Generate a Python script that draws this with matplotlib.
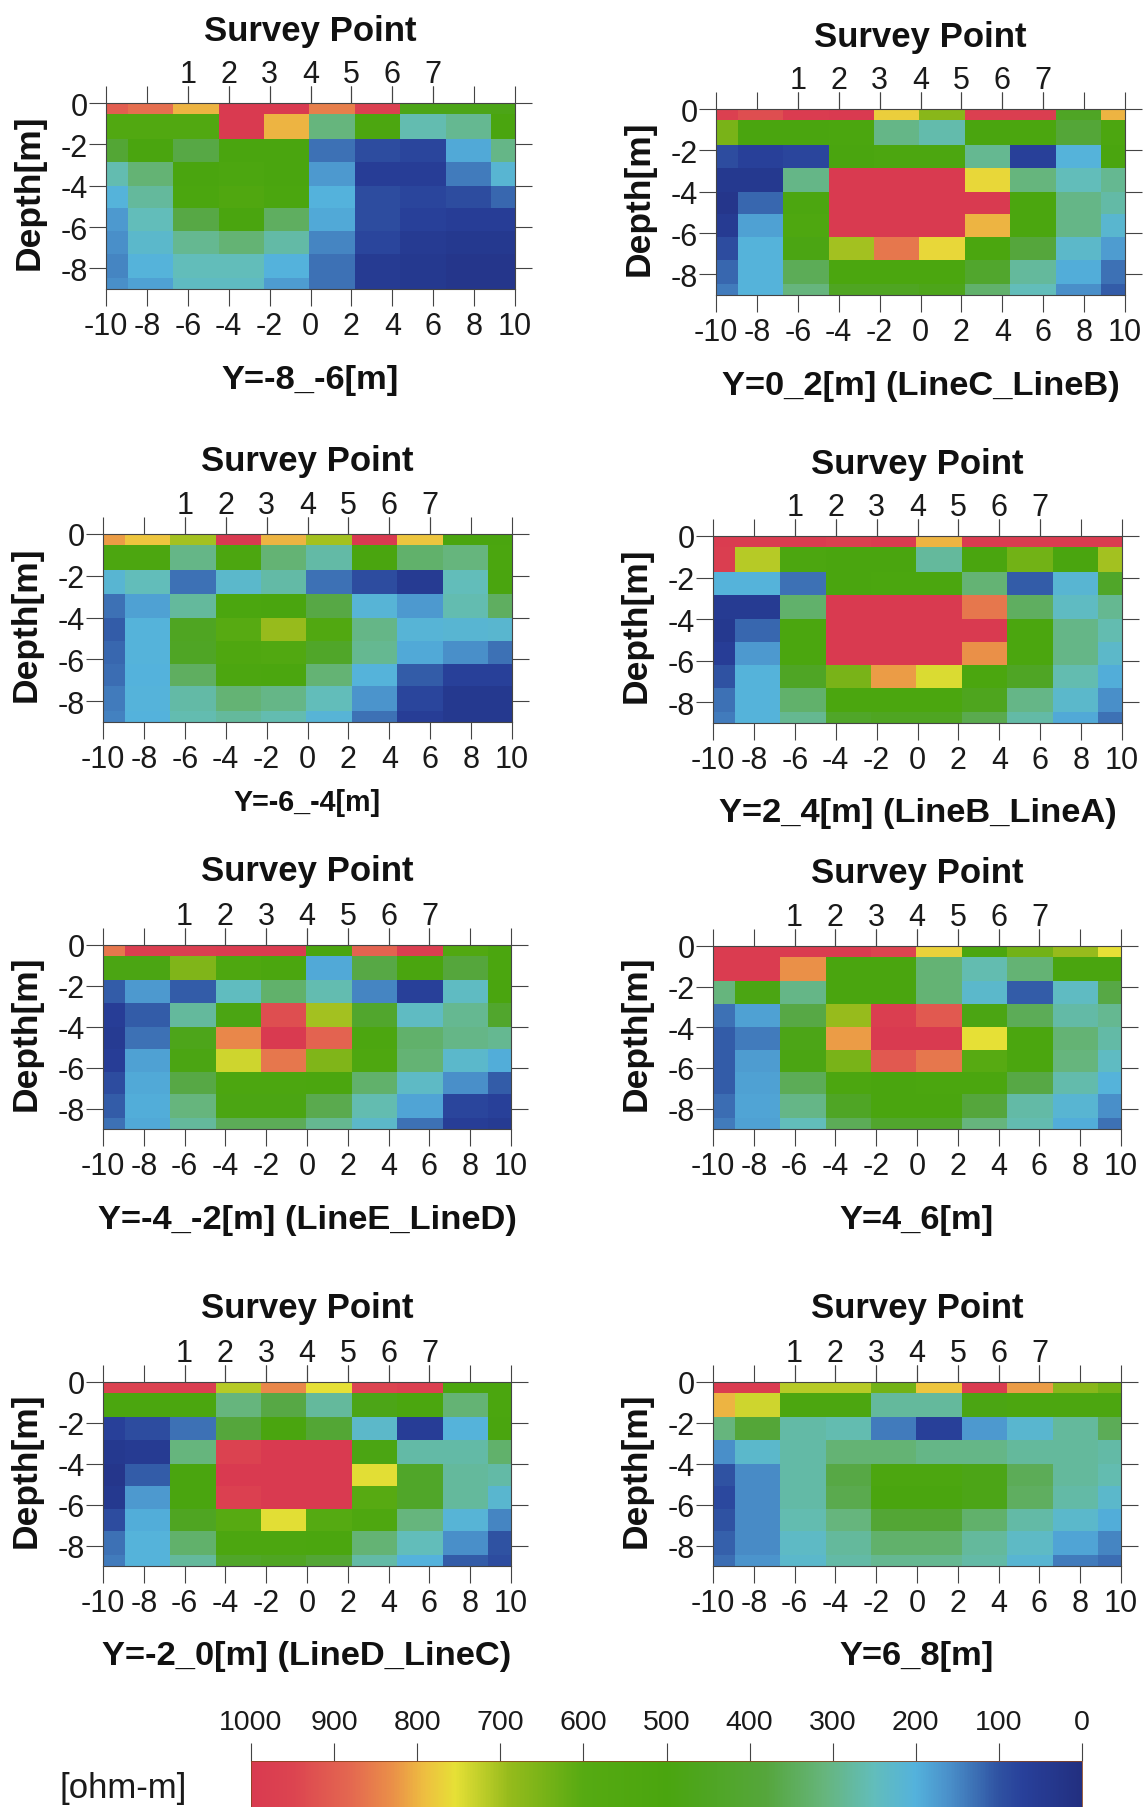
import numpy as np
import matplotlib
matplotlib.use("Agg")
import matplotlib.pyplot as plt
from matplotlib.colors import LinearSegmentedColormap, Normalize

plt.rcParams['font.family'] = ['Liberation Sans', 'DejaVu Sans']

x_edges = [-10, -8.9, -6.7, -4.45, -2.25, -0.05, 2.2, 4.4, 6.65, 8.85, 10]
depth_edges = [0, -0.55, -1.72, -2.85, -4.0, -5.1, -6.2, -7.3, -8.45, -9]
x_tick_values = [-10, -8, -6, -4, -2, 0, 2, 4, 6, 8, 10]
x_tick_labels = ['-10', '-8', '-6', '-4', '-2', '0', '2', '4', '6', '8', '10']
depth_ticks = [0, -2, -4, -6, -8]
depth_labels = ['0', '-2', '-4', '-6', '-8']
survey_ticks = [-6, -4, -2, 0, 2, 4, 6]
survey_labels = ['1', '2', '3', '4', '5', '6', '7']
cbar_ticks = [1000, 900, 800, 700, 600, 500, 400, 300, 200, 100, 0]

y_m8_m6 = [
    [900, 870, 800, 1000, 1000, 850, 970, 480, 480, 480],
    [560, 560, 560, 1000, 800, 310, 520, 260, 290, 500],
    [400, 500, 370, 500, 500, 130, 90, 80, 190, 300],
    [260, 320, 500, 520, 500, 170, 60, 60, 140, 215],
    [205, 280, 510, 550, 510, 200, 90, 80, 90, 120],
    [170, 250, 370, 500, 340, 190, 90, 70, 60, 60],
    [160, 225, 290, 320, 270, 150, 80, 50, 40, 40],
    [150, 205, 250, 250, 200, 130, 50, 40, 30, 30],
    [160, 180, 240, 240, 175, 130, 50, 40, 30, 30],
]
y_m6_m4 = [
    [820, 785, 700, 1000, 800, 700, 1000, 785, 500, 500],
    [520, 520, 300, 520, 320, 270, 500, 330, 310, 510],
    [215, 250, 130, 225, 270, 130, 90, 50, 250, 500],
    [130, 180, 280, 510, 500, 370, 210, 170, 260, 340],
    [110, 205, 450, 600, 690, 560, 300, 210, 215, 220],
    [120, 205, 440, 540, 560, 430, 290, 190, 160, 130],
    [125, 200, 340, 520, 510, 320, 205, 110, 70, 70],
    [140, 205, 270, 320, 300, 250, 165, 80, 40, 40],
    [145, 200, 260, 280, 260, 210, 130, 60, 40, 40],
]
y_m4_m2 = [
    [860, 980, 980, 990, 990, 500, 890, 980, 560, 510],
    [490, 490, 660, 530, 510, 190, 370, 500, 380, 510],
    [110, 170, 110, 245, 330, 260, 150, 70, 240, 500],
    [60, 110, 280, 490, 930, 700, 420, 240, 290, 420],
    [50, 130, 470, 840, 1000, 890, 520, 330, 300, 290],
    [60, 180, 490, 735, 860, 660, 530, 320, 225, 195],
    [90, 190, 370, 520, 520, 510, 330, 235, 160, 110],
    [110, 195, 310, 490, 490, 360, 260, 185, 80, 70],
    [130, 190, 280, 350, 350, 290, 230, 130, 60, 50],
]
y_m2_0 = [
    [960, 960, 980, 715, 840, 755, 950, 970, 510, 510],
    [510, 510, 510, 310, 370, 280, 480, 510, 320, 510],
    [70, 90, 130, 380, 500, 400, 230, 60, 205, 500],
    [40, 50, 310, 960, 1000, 1000, 490, 270, 270, 330],
    [30, 110, 500, 1000, 1000, 1000, 750, 430, 280, 270],
    [40, 170, 500, 970, 1000, 1000, 600, 430, 280, 220],
    [90, 195, 450, 600, 750, 590, 530, 310, 210, 150],
    [130, 205, 330, 520, 520, 510, 320, 250, 160, 100],
    [140, 205, 280, 430, 450, 400, 270, 200, 110, 90],
]
y_0_2 = [
    [970, 930, 990, 1000, 775, 670, 970, 980, 440, 800],
    [650, 500, 500, 510, 300, 265, 500, 510, 390, 520],
    [90, 70, 80, 500, 520, 520, 290, 70, 205, 500],
    [40, 40, 300, 1000, 1000, 1000, 765, 310, 250, 290],
    [30, 120, 520, 1000, 1000, 1000, 1000, 510, 300, 270],
    [50, 180, 530, 1000, 1000, 1000, 800, 510, 300, 220],
    [90, 205, 490, 700, 860, 765, 510, 380, 230, 175],
    [120, 205, 350, 510, 510, 510, 420, 280, 195, 130],
    [140, 205, 310, 450, 450, 470, 330, 250, 160, 110],
]
y_2_4 = [
    [990, 990, 990, 970, 990, 800, 990, 990, 990, 990],
    [980, 715, 520, 500, 500, 280, 500, 640, 500, 700],
    [205, 205, 130, 500, 510, 510, 320, 110, 215, 430],
    [50, 50, 330, 1000, 1000, 1000, 860, 340, 240, 290],
    [40, 120, 510, 1000, 1000, 1000, 1000, 510, 300, 260],
    [60, 170, 510, 1000, 1000, 1000, 830, 510, 300, 230],
    [100, 205, 440, 650, 820, 745, 510, 440, 260, 195],
    [130, 205, 330, 510, 510, 510, 460, 300, 225, 160],
    [140, 205, 290, 430, 450, 450, 360, 270, 190, 130],
]
y_4_6 = [
    [990, 990, 990, 990, 950, 770, 510, 640, 690, 755],
    [990, 990, 830, 500, 500, 320, 260, 320, 500, 500],
    [310, 490, 300, 500, 500, 320, 225, 110, 240, 370],
    [130, 180, 370, 690, 980, 910, 490, 350, 270, 290],
    [110, 140, 480, 820, 1000, 1000, 755, 510, 320, 270],
    [110, 175, 490, 650, 910, 860, 600, 510, 310, 240],
    [110, 180, 350, 520, 500, 510, 510, 370, 265, 205],
    [125, 185, 300, 440, 500, 500, 380, 270, 215, 160],
    [140, 180, 250, 350, 420, 420, 310, 260, 195, 130],
]
y_6_8 = [
    [990, 990, 715, 715, 640, 785, 990, 820, 670, 640],
    [800, 735, 520, 520, 280, 280, 490, 520, 520, 520],
    [310, 390, 270, 260, 140, 70, 170, 220, 280, 350],
    [160, 225, 270, 320, 320, 300, 300, 280, 280, 270],
    [100, 155, 270, 370, 520, 520, 480, 350, 280, 260],
    [85, 155, 270, 360, 500, 500, 480, 340, 270, 225],
    [100, 155, 260, 310, 400, 400, 330, 270, 225, 195],
    [115, 155, 235, 280, 330, 330, 280, 235, 185, 150],
    [125, 165, 225, 270, 290, 290, 270, 215, 140, 125],
]

cmap_stops = [
    (0.00, '#222f80'), (0.07, '#28409a'), (0.10, '#2f52a2'), (0.13, '#3d72b6'),
    (0.16, '#4a90ca'), (0.20, '#54b2dc'), (0.25, '#62bdbb'), (0.31, '#66b57c'),
    (0.38, '#55a63c'), (0.50, '#4aa50f'), (0.60, '#56aa12'), (0.69, '#96bb1c'),
    (0.755, '#e6e036'), (0.79, '#eec040'), (0.83, '#ea9048'), (0.88, '#e46850'),
    (0.95, '#dc4450'), (1.00, '#d93a50'),
]
cmap = LinearSegmentedColormap.from_list('resistivity', cmap_stops, N=512)
norm = Normalize(0, 1000)

W, H = 1143, 1808
fig = plt.figure(figsize=(W / 100, H / 100), dpi=100, facecolor='white')

# data, caption, caption size, left, right, top, bottom, title y, caption y
panels = [
    (y_m8_m6, 'Y=-8_-6[m]', 24.8, 106, 515, 104, 290, 31.5, 380.5),
    (y_0_2, 'Y=0_2[m] (LineC_LineB)', 24.8, 716, 1125, 110, 296, 37.5, 386.5),
    (y_m6_m4, 'Y=-6_-4[m]', 20.6, 103, 512, 535, 723, 461.5, 803.5),
    (y_2_4, 'Y=2_4[m] (LineB_LineA)', 24.8, 713, 1122, 537, 724, 464.5, 813.5),
    (y_m4_m2, 'Y=-4_-2[m] (LineE_LineD)', 24.8, 103, 511, 946, 1130, 871.5, 1220.5),
    (y_4_6, 'Y=4_6[m]', 24.8, 713, 1121, 947, 1130, 873.5, 1220.5),
    (y_m2_0, 'Y=-2_0[m] (LineD_LineC)', 24.8, 103, 511, 1383, 1567, 1308.5, 1656.5),
    (y_6_8, 'Y=6_8[m]', 24.8, 713, 1121, 1383, 1567, 1308.5, 1656.5),
]

TICK = dict(length=12, width=0.8, color='#444444')
for data, caption, cap_size, l, r, t, b, ty, cy in panels:
    ax = fig.add_axes([l / W, 1 - b / H, (r - l) / W, (b - t) / H])
    ax.pcolormesh(x_edges, depth_edges, np.array(data), cmap=cmap, norm=norm, shading='flat')
    ax.set_xlim(-10, 10)
    ax.set_ylim(-9, 0)
    ax.set_xticks(x_tick_values)
    ax.set_xticklabels(x_tick_labels, fontsize=22, color='#1a1a1a')
    ax.set_yticks(depth_ticks)
    ax.set_yticklabels(depth_labels, fontsize=22, color='#1a1a1a')
    ax.tick_params(axis='both', which='both', direction='out', right=True, top=True, **TICK)
    ax.tick_params(axis='x', pad=4)
    ax.tick_params(axis='y', pad=1)
    for s in ax.spines.values():
        s.set_linewidth(0.8)
        s.set_color('#444444')
    sec = ax.secondary_xaxis('top')
    sec.set_xticks(survey_ticks)
    sec.set_xticklabels(survey_labels, fontsize=22, color='#1a1a1a')
    sec.tick_params(direction='out', pad=-2, **TICK)
    sec.spines['top'].set_visible(False)
    cx = (l + r) / 2
    fig.text(cx / W, 1 - ty / H, 'Survey Point', fontsize=25, fontweight='bold',
             ha='center', va='center', color='#111111')
    fig.text(cx / W, 1 - cy / H, caption, fontsize=cap_size, fontweight='bold',
             ha='center', va='center', color='#111111')
    fig.text((l - 77) / W, 1 - ((t + b) / 2 - 5) / H, 'Depth[m]', fontsize=25.5, fontweight='bold',
             rotation=90, ha='center', va='center', color='#111111')

cax = fig.add_axes([251 / W, 0, (1082 - 251) / W, (H - 1762) / H])
sm = plt.cm.ScalarMappable(norm=norm, cmap=cmap)
cb = fig.colorbar(sm, cax=cax, orientation='horizontal')
cb.set_ticks(cbar_ticks)
cb.set_ticklabels([str(v) for v in cbar_ticks])
cax.invert_xaxis()
cax.xaxis.set_ticks_position('top')
cax.tick_params(axis='x', direction='out', length=13, width=0.8, color='#444444',
                labelsize=20.5, pad=6, labelcolor='#1a1a1a')
cb.outline.set_linewidth(0.6)
cb.outline.set_edgecolor('#884422')
fig.text(123 / W, 1 - 1789 / H, '[ohm-m]', fontsize=25, ha='center', va='center', color='#1a1a1a')

fig.savefig('out.png', dpi=100)
